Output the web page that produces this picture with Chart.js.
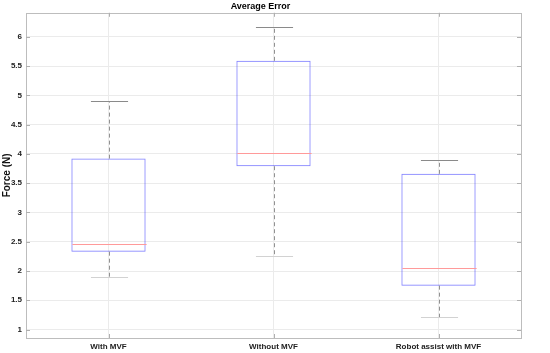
<!DOCTYPE html>
<html>
<head>
<meta charset="utf-8">
<script src="https://cdn.jsdelivr.net/npm/chart.js@4/dist/chart.umd.min.js"></script>
<style>
  html, body { margin: 0; padding: 0; background: #fff; }
  #wrap { width: 550px; height: 353px; }
</style>
</head>
<body>
<div id="wrap"><canvas id="chart"></canvas></div>
<script>
// Box plot data (Force in N)
const categories = ['With MVF', 'Without MVF', 'Robot assist with MVF'];
const q1 = [2.33, 3.79, 1.75];
const q3 = [3.92, 5.59, 3.66];
const medians = [2.46, 4.01, 2.05];
const whiskerLow = [1.90, 2.25, 1.21];
const whiskerHigh = [4.90, 6.16, 3.89];
const yTickValues = [1, 1.5, 2, 2.5, 3, 3.5, 4, 4.5, 5, 5.5, 6];

// whiskers, caps, medians, frame and inner tick marks (MATLAB style)
const boxExtras = {
    id: 'boxExtras',
    afterDatasetsDraw(chart) {
        const ctx = chart.ctx;
        const x = chart.scales.x;
        const y = chart.scales.y;
        const meta = chart.getDatasetMeta(0);
        ctx.save();
        categories.forEach((c, i) => {
            const cx = Math.round(x.getPixelForValue(i)) + 0.5;
            const half = meta.data[i].width / 2;
            const capHalf = half / 2;

            // dashed whiskers
            ctx.strokeStyle = 'rgba(110,110,110,0.75)';
            ctx.lineWidth = 1;
            ctx.setLineDash([4, 3]);
            ctx.beginPath();
            ctx.moveTo(cx, y.getPixelForValue(q3[i]));
            ctx.lineTo(cx, y.getPixelForValue(whiskerHigh[i]));
            ctx.moveTo(cx, y.getPixelForValue(q1[i]));
            ctx.lineTo(cx, y.getPixelForValue(whiskerLow[i]));
            ctx.stroke();
            ctx.setLineDash([]);

            // caps
            ctx.strokeStyle = '#8a8a8a';
            ctx.beginPath();
            const yh = Math.round(y.getPixelForValue(whiskerHigh[i])) + 0.5;
            ctx.moveTo(cx - capHalf, yh);
            ctx.lineTo(cx + capHalf, yh);
            ctx.stroke();
            ctx.strokeStyle = '#d2d2d2';
            ctx.beginPath();
            const yl = Math.round(y.getPixelForValue(whiskerLow[i])) + 0.5;
            ctx.moveTo(cx - capHalf, yl);
            ctx.lineTo(cx + capHalf, yl);
            ctx.stroke();

            // median
            ctx.strokeStyle = '#ff9a9a';
            ctx.beginPath();
            const ym = Math.round(y.getPixelForValue(medians[i])) + 0.5;
            ctx.moveTo(cx - half, ym);
            ctx.lineTo(cx + half, ym);
            ctx.stroke();
        });

        // frame
        const a = chart.chartArea;
        ctx.strokeStyle = '#bdbdbd';
        ctx.lineWidth = 1;
        ctx.strokeRect(Math.round(a.left) + 0.5, Math.round(a.top) + 0.5,
            Math.round(a.right - a.left), Math.round(a.bottom - a.top));

        // inner tick marks
        ctx.strokeStyle = '#b0b0b0';
        ctx.beginPath();
        yTickValues.forEach(v => {
            const py = Math.round(y.getPixelForValue(v)) + 0.5;
            ctx.moveTo(a.left, py); ctx.lineTo(a.left + 4, py);
            ctx.moveTo(a.right, py); ctx.lineTo(a.right - 4, py);
        });
        categories.forEach((c, i) => {
            const px = Math.round(x.getPixelForValue(i)) + 0.5;
            ctx.moveTo(px, a.bottom); ctx.lineTo(px, a.bottom - 4);
            ctx.moveTo(px, a.top); ctx.lineTo(px, a.top + 4);
        });
        ctx.stroke();
        ctx.restore();
    }
};

new Chart(document.getElementById('chart'), {
    type: 'bar',
    data: {
        labels: categories,
        datasets: [{
            data: categories.map((c, i) => [q1[i], q3[i]]),
            backgroundColor: 'rgba(0,0,0,0)',
            borderColor: 'rgba(40,40,255,0.6)',
            borderWidth: 1,
            borderSkipped: false,
            categoryPercentage: 1,
            barPercentage: 0.45
        }]
    },
    options: {
        responsive: true,
        maintainAspectRatio: false,
        animation: false,
        devicePixelRatio: 1,
        layout: { padding: { left: 0, right: 29, top: 0, bottom: 0 } },
        plugins: {
            legend: { display: false },
            tooltip: { enabled: false },
            title: {
                display: true,
                text: 'Average Error',
                color: '#000',
                font: { family: 'Liberation Sans, Arial, sans-serif', size: 9, weight: 'bold' },
                padding: { top: 1, bottom: 1 }
            }
        },
        scales: {
            x: {
                grid: { offset: false, color: '#ebebeb', drawTicks: false },
                border: { display: false },
                ticks: {
                    color: '#222',
                    padding: 4,
                    font: { family: 'Liberation Sans, Arial, sans-serif', size: 8, weight: 'bold' }
                },
                afterFit(scale) { scale.height = 15; }
            },
            y: {
                min: 0.856,
                max: 6.41,
                grid: { color: '#ebebeb', drawTicks: false },
                border: { display: false },
                afterBuildTicks(scale) {
                    scale.ticks = yTickValues.map(v => ({ value: v }));
                },
                ticks: {
                    color: '#222',
                    padding: 4,
                    callback: v => String(v),
                    font: { family: 'Liberation Sans, Arial, sans-serif', size: 8, weight: 'bold' }
                },
                title: {
                    display: true,
                    text: 'Force (N)',
                    color: '#111',
                    padding: { top: 1, bottom: 0 },
                    font: { family: 'Liberation Sans, Arial, sans-serif', size: 10, weight: 'bold' }
                },
                afterFit(scale) { scale.width = 26; }
            }
        }
    },
    plugins: [boxExtras]
});
</script>
</body>
</html>
